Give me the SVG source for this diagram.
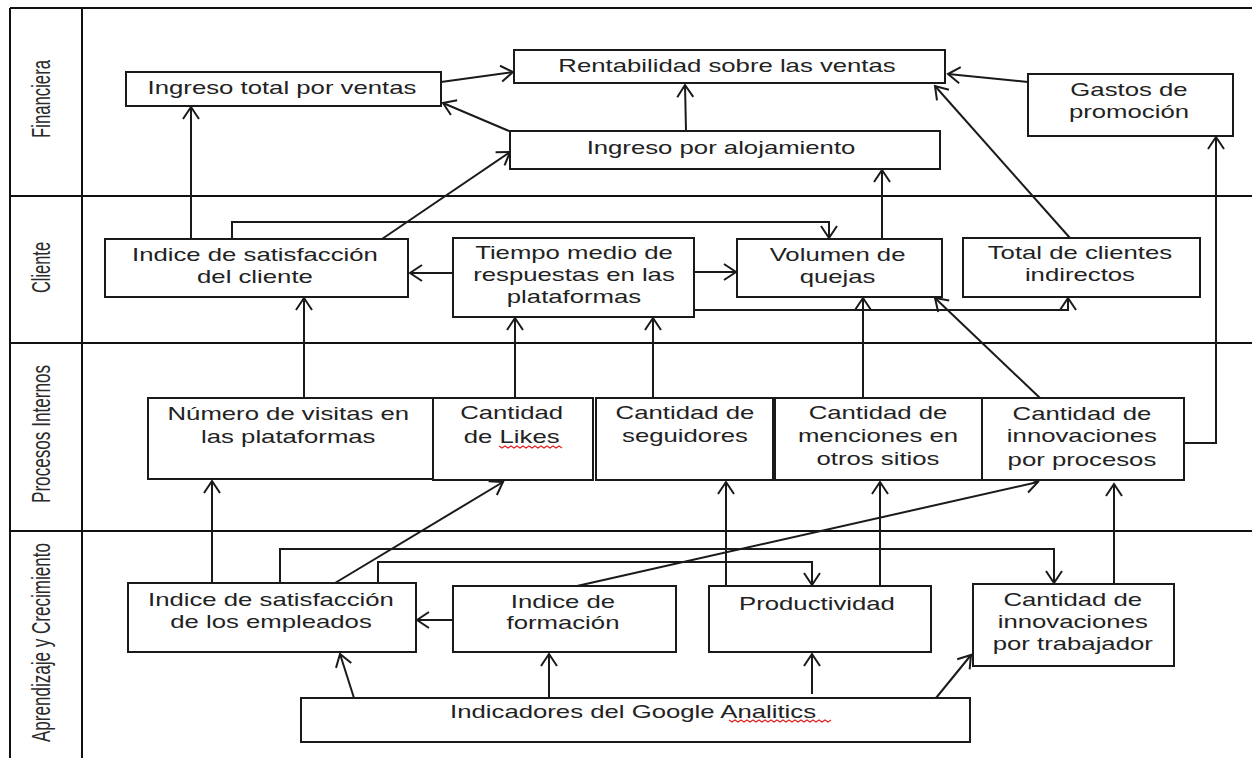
<svg xmlns="http://www.w3.org/2000/svg" width="1252" height="758" viewBox="0 0 1252 758">
<style>
.lane{stroke:#111;stroke-width:2;fill:none}
.box{fill:#fff;stroke:#1a1a1a;stroke-width:2}
.t{font-family:"Liberation Sans",Arial,sans-serif;font-size:18px;fill:#222;text-anchor:middle}
.lbl{font-family:"Liberation Sans",Arial,sans-serif;font-size:26px;fill:#2a2a2a;text-anchor:middle}
.c{fill:none;stroke:#1a1a1a;stroke-width:2}
.sq{fill:none;stroke:#e02020;stroke-width:1.2}
</style>
<defs>
<marker id="a" viewBox="-14 -10 16 20" refX="0" refY="0" markerWidth="16" markerHeight="20" markerUnits="userSpaceOnUse" orient="auto">
<path d="M-12,-8 L0,0 L-12,8" fill="none" stroke="#1a1a1a" stroke-width="2"/>
</marker>
</defs>
<rect width="1252" height="758" fill="#fff"/>
<g id="lanes">
<path class="lane" d="M10,8 H1252 M10,196 H1252 M10,343 H1252 M10,531 H1252 M10,8 V758 M82,8 V758"/>
<text class="lbl" transform="translate(49.5,99) rotate(-90)" textLength="78" lengthAdjust="spacingAndGlyphs">Financiera</text>
<text class="lbl" transform="translate(49.5,267.5) rotate(-90)" textLength="51" lengthAdjust="spacingAndGlyphs">Cliente</text>
<text class="lbl" transform="translate(49.5,434) rotate(-90)" textLength="138" lengthAdjust="spacingAndGlyphs">Procesos Internos</text>
<text class="lbl" transform="translate(49.5,642.5) rotate(-90)" textLength="199" lengthAdjust="spacingAndGlyphs">Aprendizaje y Crecimiento</text>
</g>
<g id="connectors" marker-end="url(#a)">
<path class="c" d="M441,82 L513,72"/>
<path class="c" d="M509,131 L443,103"/>
<path class="c" d="M686,131 L685,85"/>
<path class="c" d="M1028,82 L948,74"/>
<path class="c" d="M1070,238 L935,86"/>
<path class="c" d="M382,239 L510,152"/>
<path class="c" d="M191,239 L191,107"/>
<path class="c" d="M882,239 L882,170"/>
<path class="c" d="M232,239 L232,222 L829,222 L829,238"/>
<path class="c" d="M453,273 L410,273"/>
<path class="c" d="M694,272 L736,272"/>
<path class="c" d="M694,310 L1068,310 L1068,298"/>
<path class="c" d="M1040,398 L935,298"/>
<path class="c" d="M1184,443 L1216,443 L1216,137"/>
<path class="c" d="M304,398 L304,298"/>
<path class="c" d="M515,398 L515,318"/>
<path class="c" d="M653,398 L653,318"/>
<path class="c" d="M863,398 L863,298"/>
<path class="c" d="M212,583 L212,481"/>
<path class="c" d="M335,583 L503,482"/>
<path class="c" d="M280,583 L280,549 L1054,549 L1054,583"/>
<path class="c" d="M378,583 L378,562 L812,562 L812,585"/>
<path class="c" d="M453,620 L417,620"/>
<path class="c" d="M577,586 L1038,482"/>
<path class="c" d="M726,586 L726,482"/>
<path class="c" d="M880,586 L880,482"/>
<path class="c" d="M1114,584 L1114,484"/>
<path class="c" d="M354,698 L340,654"/>
<path class="c" d="M549,698 L549,654"/>
<path class="c" d="M812,694 L812,654"/>
<path class="c" d="M936,698 L971,655"/>
</g>
<g id="n1"><rect class="box" x="126" y="72" width="315" height="34"/><text class="t" transform="scale(1.43,1)" x="197.2" y="94">Ingreso total por ventas</text></g>
<g id="n2"><rect class="box" x="514" y="50" width="431" height="33"/><text class="t" transform="scale(1.43,1)" x="508.4" y="72">Rentabilidad sobre las ventas</text></g>
<g id="n3"><rect class="box" x="510" y="131" width="430" height="38"/><text class="t" transform="scale(1.43,1)" x="504.2" y="154">Ingreso por alojamiento</text></g>
<g id="n4"><rect class="box" x="1028" y="74" width="205" height="62"/><text class="t" transform="scale(1.43,1)" x="789.5" y="96">Gastos de</text><text class="t" transform="scale(1.43,1)" x="789.5" y="118">promoción</text></g>
<g id="n5"><rect class="box" x="105" y="239" width="303" height="58"/><text class="t" transform="scale(1.43,1)" x="178.3" y="261">Indice de satisfacción</text><text class="t" transform="scale(1.43,1)" x="178.3" y="283">del cliente</text></g>
<g id="n6"><rect class="box" x="453" y="238" width="241" height="79"/><text class="t" transform="scale(1.43,1)" x="401.4" y="259">Tiempo medio de</text><text class="t" transform="scale(1.43,1)" x="401.4" y="281">respuestas en las</text><text class="t" transform="scale(1.43,1)" x="401.4" y="303">plataformas</text></g>
<g id="n7"><rect class="box" x="737" y="239" width="205" height="58"/><text class="t" transform="scale(1.43,1)" x="585.7" y="261">Volumen de</text><text class="t" transform="scale(1.43,1)" x="585.7" y="283">quejas</text></g>
<g id="n8"><rect class="box" x="963" y="238" width="237" height="59"/><text class="t" transform="scale(1.43,1)" x="755.2" y="259">Total de clientes</text><text class="t" transform="scale(1.43,1)" x="755.2" y="281">indirectos</text></g>
<g id="n9"><rect class="box" x="148" y="398" width="285" height="81"/><text class="t" transform="scale(1.43,1)" x="201.6" y="420">Número de visitas en</text><text class="t" transform="scale(1.43,1)" x="201.6" y="443">las plataformas</text></g>
<g id="n10"><rect class="box" x="433" y="398" width="160" height="82"/><text class="t" transform="scale(1.43,1)" x="357.8" y="419">Cantidad</text><text class="t" transform="scale(1.43,1)" x="357.8" y="443">de Likes</text><path class="sq" d="M499,446 l3,2 l3,-2 l3,2 l3,-2 l3,2 l3,-2 l3,2 l3,-2 l3,2 l3,-2 l3,2 l3,-2 l3,2 l3,-2 l3,2 l3,-2 l3,2 l3,-2 l3,2 l3,-2 l3,2"/></g>
<g id="n11"><rect class="box" x="596" y="398" width="177" height="82"/><text class="t" transform="scale(1.43,1)" x="479.0" y="419">Cantidad de</text><text class="t" transform="scale(1.43,1)" x="479.0" y="442">seguidores</text></g>
<g id="n12"><rect class="box" x="775" y="398" width="207" height="82"/><text class="t" transform="scale(1.43,1)" x="614.0" y="419">Cantidad de</text><text class="t" transform="scale(1.43,1)" x="614.0" y="442">menciones en</text><text class="t" transform="scale(1.43,1)" x="614.0" y="465">otros sitios</text></g>
<g id="n13"><rect class="box" x="982" y="398" width="202" height="82"/><text class="t" transform="scale(1.43,1)" x="756.6" y="420">Cantidad de</text><text class="t" transform="scale(1.43,1)" x="756.6" y="442">innovaciones</text><text class="t" transform="scale(1.43,1)" x="756.6" y="466">por procesos</text></g>
<g id="n14"><rect class="box" x="128" y="583" width="288" height="69"/><text class="t" transform="scale(1.43,1)" x="189.5" y="606">Indice de satisfacción</text><text class="t" transform="scale(1.43,1)" x="189.5" y="628">de los empleados</text></g>
<g id="n15"><rect class="box" x="453" y="586" width="223" height="66"/><text class="t" transform="scale(1.43,1)" x="393.7" y="608">Indice de</text><text class="t" transform="scale(1.43,1)" x="393.7" y="629">formación</text></g>
<g id="n16"><rect class="box" x="709" y="586" width="222" height="66"/><text class="t" transform="scale(1.43,1)" x="571.3" y="610">Productividad</text></g>
<g id="n17"><rect class="box" x="973" y="584" width="201" height="82"/><text class="t" transform="scale(1.43,1)" x="750.2" y="606">Cantidad de</text><text class="t" transform="scale(1.43,1)" x="750.2" y="628">innovaciones</text><text class="t" transform="scale(1.43,1)" x="750.2" y="650">por trabajador</text></g>
<g id="n18"><rect class="box" x="301" y="698" width="669" height="44"/><text class="t" transform="scale(1.43,1)" x="442.7" y="718">Indicadores del Google Analitics</text><path class="sq" d="M729,720 l3,2 l3,-2 l3,2 l3,-2 l3,2 l3,-2 l3,2 l3,-2 l3,2 l3,-2 l3,2 l3,-2 l3,2 l3,-2 l3,2 l3,-2 l3,2 l3,-2 l3,2 l3,-2 l3,2 l3,-2 l3,2 l3,-2 l3,2 l3,-2 l3,2 l3,-2 l3,2 l3,-2 l3,2 l3,-2 l3,2 l3,-2"/></g>
</svg>
